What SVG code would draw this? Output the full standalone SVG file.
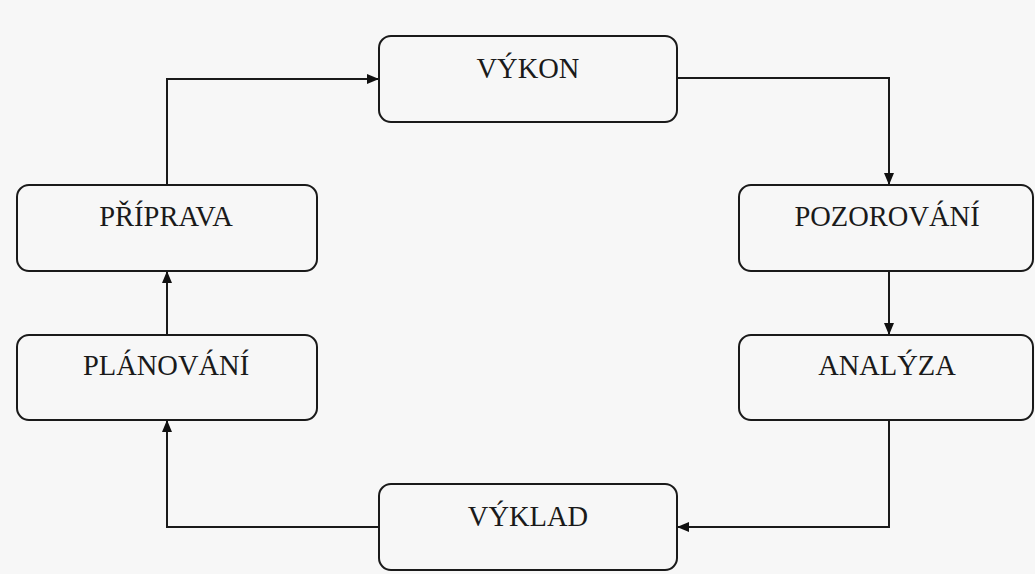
<svg xmlns="http://www.w3.org/2000/svg" width="1035" height="574" viewBox="0 0 1035 574">
<style>
.box{fill:#f7f7f7;stroke:#1a1a1a;stroke-width:2}
.lbl{font-family:"Liberation Serif","Times New Roman",serif;font-size:28.5px;fill:#1a1a1a;text-anchor:middle}
.conn{fill:none;stroke:#1a1a1a;stroke-width:2}
</style>
<defs>
<marker id="arr" viewBox="0 0 12 10" refX="12" refY="5" markerWidth="12" markerHeight="10" markerUnits="userSpaceOnUse" orient="auto">
<path d="M0,0 L12,5 L0,10 z" fill="#111"/>
</marker>
</defs>
<rect width="1035" height="574" fill="#f7f7f7"/>
<g id="connectors">
<path class="conn" d="M167,185 V79 H379" marker-end="url(#arr)"/>
<path class="conn" d="M677,78 H889 V185" marker-end="url(#arr)"/>
<path class="conn" d="M889,271 V335" marker-end="url(#arr)"/>
<path class="conn" d="M889,420 V527 H677" marker-end="url(#arr)"/>
<path class="conn" d="M379,527 H167 V420" marker-end="url(#arr)"/>
<path class="conn" d="M167,335 V271" marker-end="url(#arr)"/>
</g>
<g id="vykon"><rect class="box" x="379" y="36" width="298" height="86" rx="12"/><text class="lbl" x="528" y="78">VÝKON</text></g>
<g id="pozorovani"><rect class="box" x="739" y="185" width="294" height="86" rx="12"/><text class="lbl" x="887" y="226">POZOROVÁNÍ</text></g>
<g id="analyza"><rect class="box" x="739" y="335" width="294" height="85" rx="12"/><text class="lbl" x="887" y="375">ANALÝZA</text></g>
<g id="vyklad"><rect class="box" x="379" y="484" width="298" height="86" rx="12"/><text class="lbl" x="528" y="526">VÝKLAD</text></g>
<g id="planovani"><rect class="box" x="17" y="335" width="300" height="85" rx="12"/><text class="lbl" x="166" y="375">PLÁNOVÁNÍ</text></g>
<g id="priprava"><rect class="box" x="17" y="185" width="300" height="86" rx="12"/><text class="lbl" x="166" y="226">PŘÍPRAVA</text></g>
</svg>
